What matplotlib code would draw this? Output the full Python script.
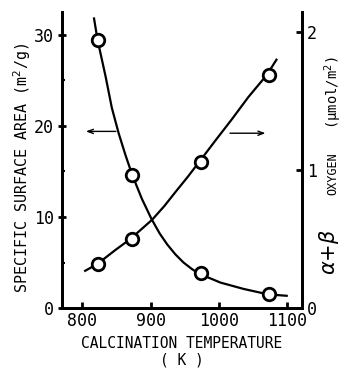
import numpy as np
import matplotlib
matplotlib.use('Agg')
import matplotlib.pyplot as plt

# calcination temperature (K) of the measured samples
temp = [823, 873, 973, 1073]
# specific surface area (m2/g)
area = [29.4, 14.6, 3.8, 1.5]
# alpha+beta oxygen (umol/m2)
oxygen = [0.32, 0.50, 1.06, 1.69]

# hand-drawn guide curves
area_curve_t = [817, 822, 834, 843, 853, 863, 873, 887, 901, 913, 924, 936, 948, 960, 970,
                1002, 1036, 1072, 1099]
area_curve_v = [31.8, 29.5, 25.4, 22.0, 19.2, 16.8, 14.6, 12.0, 9.8, 8.2, 7.0, 5.9, 5.0, 4.3, 3.8,
                2.8, 2.1, 1.5, 1.35]
oxy_curve_t = [804, 822, 848, 870, 886, 902, 920, 936, 954, 971, 994, 1019, 1043, 1070, 1084]
oxy_curve_v = [0.27, 0.32, 0.42, 0.50, 0.57, 0.64, 0.74, 0.84, 0.95, 1.06, 1.21, 1.37, 1.53, 1.69, 1.80]

xticks = [800, 900, 1000, 1100]

mono = ['DejaVu Sans Mono']

fig = plt.figure(figsize=(3.46, 3.78), dpi=100)
ax = fig.add_axes([0.179, 0.185, 0.695, 0.783])
ax2 = ax.twinx()

ax.plot(area_curve_t, area_curve_v, color='black', lw=1.6, solid_joinstyle='round')
ax.plot(temp, area, 'o', ms=9, mfc='white', mec='black', mew=2, zorder=5)
ax2.plot(oxy_curve_t, oxy_curve_v, color='black', lw=1.6, solid_joinstyle='round')
ax2.plot(temp, oxygen, 'o', ms=9, mfc='white', mec='black', mew=2, zorder=5)

ax.set_xlim(770, 1122)
ax.set_ylim(0, 32.5)
ax2.set_ylim(0, 2.145)

# arrows pointing to the axis of each curve
ax.annotate('', xy=(801, 19.4), xytext=(853, 19.4),
            arrowprops=dict(arrowstyle='->,head_length=0.4,head_width=0.15', color='black', lw=1.0))
ax.annotate('', xy=(1072, 19.2), xytext=(1012, 19.2),
            arrowprops=dict(arrowstyle='->,head_length=0.4,head_width=0.15', color='black', lw=1.0))

ax.set_xticks(xticks)
ax.set_yticks([0, 10, 20, 30])
ax.set_yticks([5, 15, 25], minor=True)
ax2.set_yticks([0, 1, 2])

for a in (ax, ax2):
    a.spines['top'].set_visible(False)
    for s in a.spines.values():
        s.set_linewidth(2.0)
    a.tick_params(direction='in', length=4, width=2, pad=3)
    a.tick_params(which='minor', direction='in', length=2, width=1.5)
    for lab in a.get_xticklabels() + a.get_yticklabels():
        lab.set_fontfamily(mono)
        lab.set_fontsize(12)
ax.tick_params(axis='y', direction='inout', length=6)

fig.text(0.063, 0.555, 'SPECIFIC SURFACE AREA (m$^2$/g)', rotation=90,
         ha='center', va='center', family=mono, fontsize=10.8)
fig.text(0.526, 0.069, 'CALCINATION TEMPERATURE\n( K )', ha='center', va='center',
         family=mono, fontsize=10.5, linespacing=1.1)

fig.text(0.950, 0.333, r'$\alpha$+$\beta$', rotation=90, ha='center', va='center',
         fontsize=15, family=['DejaVu Serif'])
fig.text(0.963, 0.54, 'OXYGEN', rotation=90, ha='center', va='center',
         family=mono, fontsize=8.5)
fig.text(0.962, 0.755, '(μmol/m$^2$)', rotation=90, ha='center', va='center',
         family=mono, fontsize=10)

fig.savefig('out.png', dpi=100)
